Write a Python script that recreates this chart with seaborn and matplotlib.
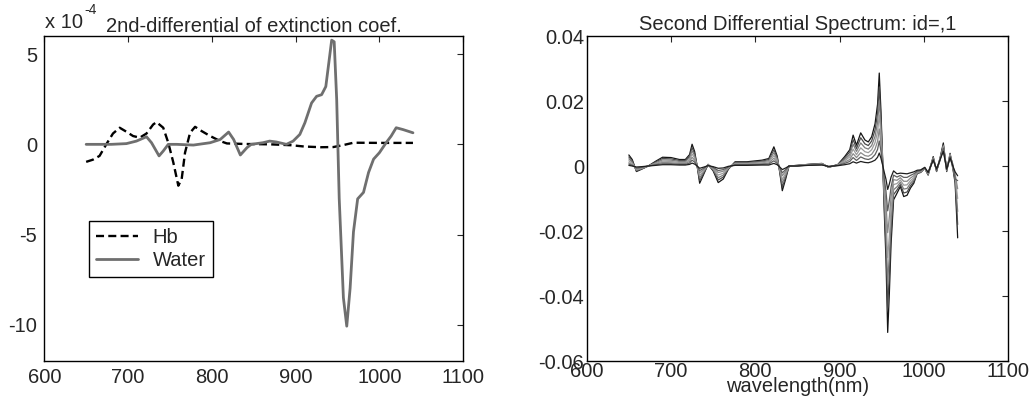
import matplotlib
matplotlib.use("Agg")
import matplotlib.pyplot as plt
import seaborn as sns
import pandas as pd
import numpy as np

# ---- left panel: 2nd differential of extinction coefficient (x 1e-4) ----
hb_wl = [650, 658, 666, 674, 682, 690, 698, 706, 714, 722,
         730, 734, 742, 748, 754, 760, 764, 768, 774, 780,
         788, 798, 810, 818, 840, 870, 895, 910, 930, 945,
         957, 969, 1000, 1040]
hb = [-0.97, -0.85, -0.64, 0.0, 0.6, 0.92, 0.7, 0.46, 0.37, 0.6,
      1.1, 1.23, 0.92, 0.09, -1.0, -2.29, -1.92, -0.46, 0.64, 0.97,
      0.73, 0.46, 0.18, 0.05, 0.02, 0.0, -0.05, -0.12, -0.16, -0.15,
      -0.04, 0.09, 0.08, 0.08]

water_wl = [650, 680, 698, 710, 722, 728, 737, 742, 748, 758,
            778, 798, 810, 820, 826, 834, 842, 847, 861, 869,
            877, 889, 897, 905, 911, 919, 925, 931, 936, 939,
            943, 946, 949, 952, 957, 961, 965, 969, 974, 981,
            987, 993, 1000, 1008, 1014, 1020, 1028, 1040]
water = [0.0, 0.0, 0.04, 0.18, 0.42, 0.09, -0.64, -0.37, 0.0, 0.0,
         -0.04, 0.09, 0.27, 0.68, 0.27, -0.59, -0.18, 0.0, 0.09, 0.18,
         0.13, 0.0, 0.18, 0.55, 1.19, 2.29, 2.66, 2.75, 3.2, 4.3,
         5.77, 5.68, 2.47, -3.0, -8.5, -10.07, -7.97, -4.85, -3.02, -2.66,
         -1.56, -0.82, -0.46, 0.09, 0.46, 0.92, 0.82, 0.64]

left_yticks = [-10, -5, 0, 5]
left_yticklabels = ["-10", "-5", "0", "5"]

# ---- right panel: second differential spectra (values in 1e-3) ----
spec_wl = [650, 654, 659, 665, 673, 682, 690, 700, 710, 717,
           722, 725, 728, 731, 734, 738, 744, 750, 756, 762,
           768, 776, 790, 808, 816, 822, 826, 829, 832, 836,
           840, 850, 863, 879, 887, 898, 906, 912, 916, 920,
           925, 930, 934, 938, 942, 945, 947, 949, 951, 953,
           955, 957, 959, 961, 964, 968, 972, 976, 980, 984,
           988, 992, 996, 1001, 1005, 1011, 1015, 1019, 1023, 1027,
           1031, 1034, 1037, 1040]

spec_0 = [3.4, 2.0, -1.7, -1.0, 0.0, 1.5, 2.7, 2.6, 2.0, 2.0,
          3.5, 6.7, 4.5, 0.0, -5.3, -3.0, 0.5, -1.5, -5.1, -4.0,
          -1.0, 1.3, 1.3, 1.8, 2.3, 5.9, 3.0, -2.0, -7.6, -4.0,
          0.0, 0.2, 0.5, 0.8, -0.4, 0.5, 2.9, 5.0, 9.5, 6.4,
          10.2, 8.0, 7.4, 9.0, 13.0, 19.0, 28.6, 17.0, 2.0, -14.5,
          -29.0, -51.2, -39.0, -24.0, -10.4, -8.4, -6.3, -9.4, -9.0, -6.8,
          -5.3, -2.2, -2.0, -0.7, -2.8, 2.9, -1.7, 2.3, 7.1, -1.7,
          3.9, -0.2, -5.3, -22.1]
spec_1 = [2.8, 1.6, -1.5, -0.9, 0.0, 1.3, 2.3, 2.2, 1.7, 1.7,
          3.0, 5.7, 3.8, 0.0, -4.5, -2.6, 0.5, -1.3, -4.3, -3.4,
          -0.9, 1.1, 1.1, 1.5, 2.0, 5.0, 2.6, -1.7, -6.5, -3.4,
          0.0, 0.2, 0.5, 0.7, -0.4, 0.4, 2.5, 4.3, 8.1, 5.4,
          8.7, 6.8, 6.3, 7.7, 11.1, 16.2, 24.3, 14.5, 1.7, -12.3,
          -24.7, -43.5, -33.2, -20.4, -8.8, -7.4, -5.7, -8.3, -8.0, -6.1,
          -4.8, -2.3, -1.9, -0.8, -2.5, 2.6, -1.4, 2.0, 6.5, -1.2,
          3.5, 0.3, -4.5, -18.0]
spec_2 = [2.2, 1.2, -1.3, -0.8, 0.0, 1.0, 1.9, 1.8, 1.4, 1.4,
          2.5, 4.7, 3.2, 0.0, -3.7, -2.1, 0.4, -1.1, -3.6, -2.8,
          -0.7, 0.9, 0.9, 1.3, 1.6, 4.1, 2.1, -1.4, -5.3, -2.8,
          0.0, 0.1, 0.4, 0.7, -0.3, 0.4, 2.0, 3.5, 6.7, 4.5,
          7.1, 5.6, 5.2, 6.3, 9.1, 13.3, 20.0, 11.9, 1.4, -10.2,
          -20.3, -35.8, -27.3, -16.8, -7.3, -6.4, -5.0, -7.1, -6.9, -5.3,
          -4.2, -2.1, -1.8, -0.6, -2.6, 2.3, -1.6, 2.4, 5.8, -1.5,
          3.2, -0.5, -3.8, -14.0]
spec_3 = [1.6, 0.8, -1.1, -0.7, 0.0, 0.8, 1.5, 1.4, 1.1, 1.1,
          1.9, 3.7, 2.5, 0.0, -2.9, -1.7, 0.4, -0.8, -2.8, -2.2,
          -0.6, 0.7, 0.7, 1.0, 1.3, 3.2, 1.7, -1.1, -4.2, -2.2,
          0.0, 0.1, 0.4, 0.6, -0.3, 0.3, 1.6, 2.8, 5.2, 3.5,
          5.6, 4.4, 4.1, 5.0, 7.2, 10.5, 15.7, 9.4, 1.1, -8.0,
          -16.0, -28.2, -21.5, -13.2, -5.7, -5.4, -4.3, -5.9, -5.8, -4.5,
          -3.6, -2.0, -1.7, -0.9, -2.2, 2.5, -1.2, 1.8, 6.2, -0.9,
          3.6, 0.5, -3.2, -10.0]
spec_4 = [1.0, 0.4, -0.9, -0.5, 0.0, 0.6, 1.1, 1.0, 0.8, 0.8,
          1.4, 2.7, 1.8, 0.0, -2.1, -1.2, 0.3, -0.6, -2.0, -1.6,
          -0.4, 0.5, 0.5, 0.7, 0.9, 2.4, 1.2, -0.8, -3.0, -1.6,
          0.0, 0.1, 0.3, 0.5, -0.2, 0.2, 1.2, 2.0, 3.8, 2.6,
          4.1, 3.2, 3.0, 3.6, 5.2, 7.6, 11.4, 6.8, 0.8, -5.8,
          -11.6, -20.5, -15.6, -9.6, -4.2, -4.4, -3.6, -4.7, -4.7, -3.7,
          -3.0, -1.8, -1.6, -0.5, -2.4, 2.0, -1.0, 2.1, 5.0, -1.3,
          2.8, 0.0, -2.5, -7.0]
spec_5 = [0.6, 0.2, -0.6, -0.4, 0.0, 0.4, 0.7, 0.7, 0.5, 0.5,
          0.9, 1.8, 1.2, 0.0, -1.4, -0.8, 0.2, -0.4, -1.4, -1.1,
          -0.3, 0.4, 0.4, 0.5, 0.6, 1.6, 0.8, -0.5, -2.1, -1.1,
          0.0, 0.0, 0.3, 0.4, -0.2, 0.2, 0.8, 1.4, 2.6, 1.7,
          2.8, 2.2, 2.0, 2.4, 3.5, 5.1, 7.7, 4.6, 0.5, -3.9,
          -7.8, -13.8, -10.5, -6.5, -2.8, -3.4, -2.9, -3.5, -3.5, -2.9,
          -2.4, -1.6, -1.4, -0.7, -1.9, 2.2, -1.3, 1.6, 5.5, -0.7,
          3.0, 0.8, -4.0, -4.5]
spec_6 = [0.2, 0.0, -0.3, -0.2, 0.0, 0.2, 0.4, 0.4, 0.3, 0.3,
          0.5, 0.9, 0.6, 0.0, -0.7, -0.4, 0.1, -0.2, -0.7, -0.6,
          -0.1, 0.2, 0.2, 0.3, 0.3, 0.8, 0.4, -0.3, -1.1, -0.6,
          0.0, 0.0, 0.2, 0.3, -0.1, 0.1, 0.4, 0.7, 1.3, 0.9,
          1.4, 1.1, 1.0, 1.3, 1.8, 2.7, 4.0, 2.4, 0.3, -2.0,
          -4.1, -7.2, -5.5, -3.4, -1.5, -2.4, -2.2, -2.3, -2.4, -2.1,
          -1.8, -1.3, -1.2, -0.4, -2.0, 1.8, -0.9, 1.9, 4.5, -1.0,
          2.5, 0.2, -1.8, -3.0]

spectra = [spec_0, spec_1, spec_2, spec_3, spec_4, spec_5, spec_6]
spec_colors = ["#141414", "#4a4a4a", "#7c7c7c", "#9c9c9c", "#8a8a8a", "#5e5e5e", "#1e1e1e"]

right_yticks = [-0.06, -0.04, -0.02, 0, 0.02, 0.04]
right_yticklabels = ["-0.06", "-0.04", "-0.02", "0", "0.02", "0.04"]

xticks = [600, 700, 800, 900, 1000, 1100]
xticklabels = ["600", "700", "800", "900", "1000", "1100"]

# long-form table for the spectra bundle
rows = []
for k, s in enumerate(spectra):
    for w, v in zip(spec_wl, s):
        rows.append({"wl": w, "val": v * 1e-3, "curve": f"c{k}"})
spec_df = pd.DataFrame(rows)

sns.set_style("white")
plt.rcParams["font.family"] = ["Liberation Sans", "DejaVu Sans"]
plt.rcParams["axes.unicode_minus"] = False
FS = 14.5

fig, (ax1, ax2) = plt.subplots(1, 2, figsize=(10.34, 4.05), dpi=100)
ax1.set_position([0.0428, 0.1086, 0.4052, 0.8025])
ax2.set_position([0.5674, 0.1086, 0.4077, 0.8025])

# left
sns.lineplot(x=hb_wl, y=hb, ax=ax1, color="black", lw=1.7, label="Hb")
ax1.lines[-1].set_dashes((3.4, 1.8))
sns.lineplot(x=water_wl, y=water, ax=ax1, color="#6f6f6f", lw=2.0, label="Water")
ax1.set_xlim(600, 1100)
ax1.set_ylim(-12, 6)
ax1.set_xticks(xticks)
ax1.set_xticklabels(xticklabels)
ax1.set_yticks(left_yticks)
ax1.set_yticklabels(left_yticklabels)
ax1.tick_params(direction="in", top=True, right=True, length=4, width=0.8,
                labelsize=FS, pad=5)
ax1.set_title("2nd-differential of extinction coef.", fontsize=FS, pad=3)
ax1.set_xlabel("")
ax1.set_ylabel("")
ax1.legend(loc="upper left", bbox_to_anchor=(0.107, 0.431), borderaxespad=0,
           frameon=True, fancybox=False, edgecolor="black", framealpha=1,
           fontsize=FS, handlelength=2.1, handletextpad=0.7,
           labelspacing=0.2, borderpad=0.35)
ax1.get_legend().get_frame().set_linewidth(1.0)
fig.text(45 / 1034, 1 - 28 / 405, "x 10", fontsize=FS, va="baseline")
fig.text(84 / 1034, 1 - 14 / 405, "-4", fontsize=10, va="baseline")

# right
sns.lineplot(data=spec_df, x="wl", y="val", hue="curve", palette=spec_colors,
             estimator=None, lw=0.9, legend=False, ax=ax2)
ax2.set_xlim(600, 1100)
ax2.set_ylim(-0.06, 0.04)
ax2.set_xticks(xticks)
ax2.set_xticklabels(xticklabels)
ax2.set_yticks(right_yticks)
ax2.set_yticklabels(right_yticklabels)
ax2.tick_params(direction="in", top=True, right=True, length=4, width=0.8,
                labelsize=FS, pad=2)
ax2.tick_params(axis="x", pad=1)
ax2.set_title("Second Differential Spectrum: id=,1", fontsize=FS, pad=4)
ax2.set_xlabel("wavelength(nm)", fontsize=FS, labelpad=-3.5)
ax2.set_ylabel("")

for ax in (ax1, ax2):
    for sp in ax.spines.values():
        sp.set_color("black")
        sp.set_linewidth(1.0)

fig.savefig("out.png", dpi=100)
